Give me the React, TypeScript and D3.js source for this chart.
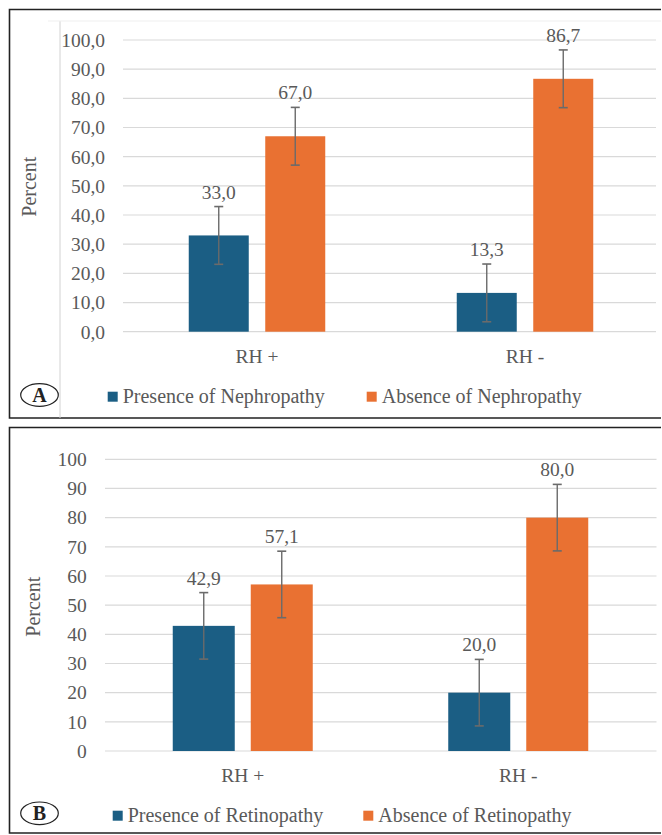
import * as d3 from 'd3';

// values
const categories = ['RH +', 'RH -'];

const nephroSeries = ['Presence of Nephropathy', 'Absence of Nephropathy'];
const nephroPresence = [33.0, 13.3];
const nephroAbsence = [67.0, 86.7];
const nephroError = [9.9, 9.9];

const retinoSeries = ['Presence of Retinopathy', 'Absence of Retinopathy'];
const retinoPresence = [42.9, 20.0];
const retinoAbsence = [57.1, 80.0];
const retinoError = [11.4, 11.4];

const yTicks = [0, 10, 20, 30, 40, 50, 60, 70, 80, 90, 100];

const colors = ['#1b5e84', '#e97132'];
const textColor = '#595959';
const gridColor = '#d9d9d9';
const errColor = '#6b6b6b';
const font = '"Liberation Serif", "Times New Roman", serif';

const comma1 = (v: number) => d3.format('.1f')(v).replace('.', ',');

interface PanelProps {
  letter: string;
  series: string[];
  values: number[][];
  errors: number[];
  tickFormat: (v: number) => string;
  frame: { top: number; bottom: number };
  plot: { x0: number; x1: number; y0: number; y1: number; gridEnd: number };
  barW: number;
  gap: number;
  tickRight: number;
  catBaseline: number;
  yLabel: { x: number; y: number };
  legend: { y: number; xs: number[] };
  letterPos: { x: number; y: number };
  innerLines?: boolean;
}

function Panel(p: PanelProps) {
  const x0 = d3.scaleBand<string>().domain(categories).range([p.plot.x0, p.plot.x1]);
  const pairW = 2 * p.barW + p.gap;
  const x1 = d3
    .scaleBand<string>()
    .domain(p.series)
    .range([-pairW / 2, pairW / 2])
    .paddingInner(p.gap / (p.barW + p.gap));
  const y = d3.scaleLinear().domain([0, 100]).range([p.plot.y0, p.plot.y1]);

  return (
    <g fontFamily={font}>
      {/* outer frame, right side is cut off in the source */}
      <path
        d={`M661,${p.frame.top}H9.5V${p.frame.bottom}H661`}
        fill="none"
        stroke="#222"
        strokeWidth={1.6}
      />
      {p.innerLines && (
        <g>
          <line x1={60} x2={60} y1={21} y2={p.frame.bottom} stroke="#d2d2d2" />
          <line x1={48} x2={661} y1={21} y2={21} stroke="#efefef" />
        </g>
      )}

      {/* grid + y ticks */}
      {yTicks.map(t => (
        <g key={t}>
          <line
            x1={p.plot.x0}
            x2={p.plot.gridEnd}
            y1={y(t)}
            y2={y(t)}
            stroke={gridColor}
            strokeWidth={1.2}
          />
          <text
            x={p.tickRight}
            y={y(t)}
            dy="0.35em"
            textAnchor="end"
            fontSize={19.5}
            fill={textColor}
          >
            {p.tickFormat(t)}
          </text>
        </g>
      ))}

      <text
        transform={`translate(${p.yLabel.x},${p.yLabel.y}) rotate(-90)`}
        textAnchor="middle"
        dy="0.35em"
        fontSize={20}
        fill={textColor}
      >
        Percent
      </text>

      {/* bars, error bars, labels */}
      {categories.map((c, ci) =>
        p.series.map((s, si) => {
          const v = p.values[si][ci];
          const e = p.errors[si];
          const cx = (x0(c) ?? 0) + x0.bandwidth() / 2;
          const bx = cx + (x1(s) ?? 0);
          const mx = bx + x1.bandwidth() / 2;
          return (
            <g key={c + s}>
              <rect
                x={bx}
                y={y(v)}
                width={x1.bandwidth()}
                height={y(0) - y(v)}
                fill={colors[si]}
              />
              <line x1={mx} x2={mx} y1={y(v + e)} y2={y(v - e)} stroke={errColor} strokeWidth={1.4} />
              <line x1={mx - 4.5} x2={mx + 4.5} y1={y(v + e)} y2={y(v + e)} stroke={errColor} strokeWidth={1.6} />
              <line x1={mx - 4.5} x2={mx + 4.5} y1={y(v - e)} y2={y(v - e)} stroke={errColor} strokeWidth={1.6} />
              <text
                x={mx}
                y={y(v + e) - 8}
                textAnchor="middle"
                fontSize={19.5}
                fill={textColor}
              >
                {comma1(v)}
              </text>
            </g>
          );
        })
      )}

      {categories.map(c => (
        <text
          key={c}
          x={(x0(c) ?? 0) + x0.bandwidth() / 2}
          y={p.catBaseline}
          textAnchor="middle"
          fontSize={19.5}
          fill={textColor}
        >
          {c}
        </text>
      ))}

      {/* legend */}
      {p.series.map((s, si) => (
        <g key={s} transform={`translate(${p.legend.xs[si]},${p.legend.y})`}>
          <rect x={0} y={0} width={10} height={10} fill={colors[si]} />
          <text x={15} y={11} fontSize={20} fill={textColor}>
            {s}
          </text>
        </g>
      ))}

      {/* panel letter */}
      <ellipse
        cx={p.letterPos.x}
        cy={p.letterPos.y}
        rx={18.8}
        ry={11.3}
        fill="none"
        stroke="#222"
        strokeWidth={1.2}
      />
      <text
        x={p.letterPos.x}
        y={p.letterPos.y}
        dy="0.35em"
        textAnchor="middle"
        fontSize={20}
        fontWeight="bold"
        fill="#222"
      >
        {p.letter}
      </text>
    </g>
  );
}

export default function App() {
  return (
    <svg
      width={662}
      height={835}
      style={{ position: 'absolute', left: 0, top: 0, background: '#fff' }}
    >
      <rect width={662} height={835} fill="#fff" />
      <Panel
        letter="A"
        series={nephroSeries}
        values={[nephroPresence, nephroAbsence]}
        errors={nephroError}
        tickFormat={comma1}
        frame={{ top: 9.5, bottom: 418 }}
        plot={{ x0: 123, x1: 659, y0: 331.7, y1: 40, gridEnd: 656 }}
        barW={60}
        gap={16.5}
        tickRight={105}
        catBaseline={362.7}
        yLabel={{ x: 29, y: 186.7 }}
        legend={{ y: 391.7, xs: [107.7, 366.7] }}
        letterPos={{ x: 39.5, y: 395 }}
        innerLines
      />
      <Panel
        letter="B"
        series={retinoSeries}
        values={[retinoPresence, retinoAbsence]}
        errors={retinoError}
        tickFormat={d3.format('d')}
        frame={{ top: 427.5, bottom: 833 }}
        plot={{ x0: 105, x1: 656, y0: 751, y1: 459.3, gridEnd: 656.5 }}
        barW={62}
        gap={16}
        tickRight={86.7}
        catBaseline={781.7}
        yLabel={{ x: 32.5, y: 606.7 }}
        legend={{ y: 810.7, xs: [112.7, 363.3] }}
        letterPos={{ x: 39.5, y: 813.3 }}
      />
    </svg>
  );
}
